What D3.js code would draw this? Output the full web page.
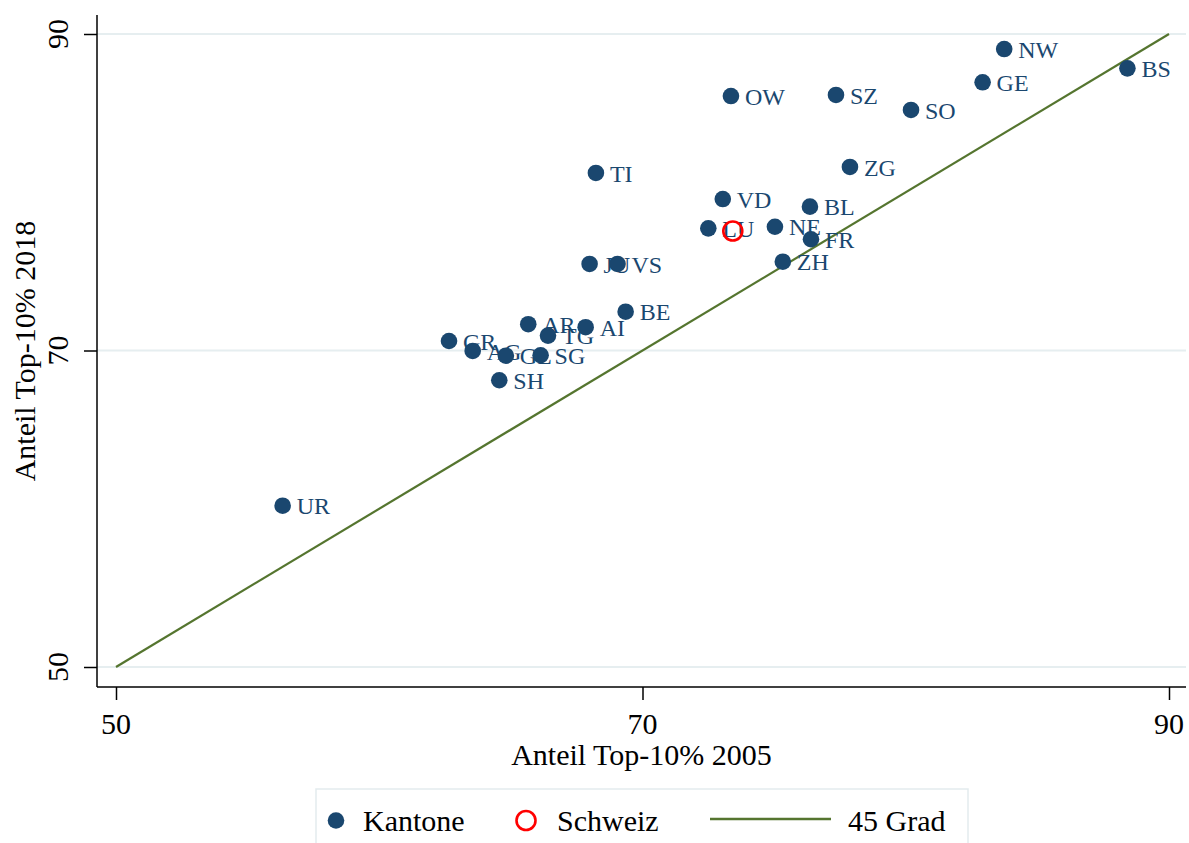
<!DOCTYPE html>
<html><head><meta charset="utf-8">
<script src="https://cdn.jsdelivr.net/npm/d3@7"></script>
<style>body{margin:0;background:#fff}svg{display:block}text{font-family:"Liberation Serif","Times New Roman",serif}</style>
</head><body>
<svg id="c" width="1189" height="843"></svg>
<script>
const cantons = ["NW","GE","BS","OW","SZ","SO","ZG","TI","VD","BL","LU","NE","FR","ZH","JU","VS","BE","AR","AI","TG","GR","AG","GL","SG","SH","UR"];
const share2005 = [83.74,82.92,88.42,73.36,77.35,80.20,77.88,68.23,73.05,76.36,72.50,75.03,76.40,75.33,67.99,69.05,69.36,65.66,67.84,66.41,62.65,63.55,64.81,66.13,64.56,56.33];
const share2018 = [89.05,86.95,87.83,86.08,86.15,85.20,81.60,81.22,79.57,79.09,77.72,77.82,77.03,75.61,75.47,75.47,72.45,71.66,71.47,70.94,70.60,69.97,69.67,69.70,68.12,60.19];
const swiss2005 = [73.43];
const swiss2018 = [77.55];
const lineVals = [50, 90];
const ticks = [50, 70, 90];
const legendLabels = ["Kantone", "Schweiz", "45 Grad"];
const xTitle = "Anteil Top-10% 2005";
const yTitle = "Anteil Top-10% 2018";

const navy = "#1a476f", red = "#ff0000", green = "#55752f", grid = "#e6eef0";
const frame = {left: 97, right: 1186, top: 15, bottom: 687};
const svg = d3.select("#c");
const x = d3.scaleLinear().domain([50, 90]).range([116, 1169]);
const y = d3.scaleLinear().domain([50, 90]).range([667, 34]);

// gridlines
svg.append("g").selectAll("line").data(ticks).join("line")
  .attr("x1", frame.left).attr("x2", frame.right)
  .attr("y1", d => y(d)).attr("y2", d => y(d))
  .attr("stroke", grid).attr("stroke-width", 2);

// axes
const gx = svg.append("g").attr("transform", `translate(0,${frame.bottom})`)
  .call(d3.axisBottom(x).tickValues(ticks).tickSize(13).tickFormat(""));
gx.select(".domain").remove();
gx.selectAll("line").attr("stroke", "#000").attr("stroke-width", 1.5);
const gy = svg.append("g").attr("transform", `translate(${frame.left},0)`)
  .call(d3.axisLeft(y).tickValues(ticks).tickSize(13).tickFormat(""));
gy.select(".domain").remove();
gy.selectAll("line").attr("stroke", "#000").attr("stroke-width", 1.5);

svg.append("line").attr("x1", frame.left).attr("x2", frame.left).attr("y1", frame.top).attr("y2", frame.bottom)
  .attr("stroke", "#000").attr("stroke-width", 1.5);
svg.append("line").attr("x1", frame.left).attr("x2", frame.right).attr("y1", frame.bottom).attr("y2", frame.bottom)
  .attr("stroke", "#000").attr("stroke-width", 1.5);

// tick labels
svg.append("g").selectAll("text").data(ticks).join("text")
  .attr("x", d => x(d)).attr("y", 734).attr("text-anchor", "middle")
  .attr("font-size", 30).text(d => d);
svg.append("g").selectAll("text").data(ticks).join("text")
  .attr("transform", d => `translate(68,${y(d)}) rotate(-90)`).attr("text-anchor", "middle")
  .attr("font-size", 30).text(d => d);

// axis titles
svg.append("text").attr("x", (frame.left + frame.right) / 2).attr("y", 765)
  .attr("text-anchor", "middle").attr("font-size", 30).text(xTitle);
svg.append("text").attr("transform", `translate(35,${(frame.top + frame.bottom) / 2}) rotate(-90)`)
  .attr("text-anchor", "middle").attr("font-size", 30).text(yTitle);

// 45 degree line
svg.append("line").attr("x1", x(lineVals[0])).attr("y1", y(lineVals[0]))
  .attr("x2", x(lineVals[1])).attr("y2", y(lineVals[1]))
  .attr("stroke", green).attr("stroke-width", 2.2);

// cantons
const data = cantons.map((c, i) => ({c, x: share2005[i], y: share2018[i]}));
const gp = svg.append("g");
data.forEach(d => {
  gp.append("circle").attr("cx", x(d.x)).attr("cy", y(d.y)).attr("r", 8.3).attr("fill", navy);
  gp.append("text").attr("x", x(d.x) + 14).attr("y", y(d.y)).attr("dy", "0.36em")
    .attr("font-size", 24).attr("fill", navy).text(d.c);
});

// Schweiz
svg.append("g").selectAll("circle").data(swiss2005).join("circle")
  .attr("cx", (d) => x(d)).attr("cy", (d, i) => y(swiss2018[i])).attr("r", 9.5)
  .attr("fill", "none").attr("stroke", red).attr("stroke-width", 2.6);

// legend
const lg = svg.append("g");
lg.append("rect").attr("x", 316).attr("y", 789).attr("width", 652).attr("height", 70)
  .attr("fill", "#fff").attr("stroke", "#e3ebee").attr("stroke-width", 1.5);
lg.append("circle").attr("cx", 336).attr("cy", 820.5).attr("r", 8.3).attr("fill", navy);
lg.append("text").attr("x", 363).attr("y", 831).attr("font-size", 30).text(legendLabels[0]);
lg.append("circle").attr("cx", 526).attr("cy", 820.5).attr("r", 9.5).attr("fill", "none").attr("stroke", red).attr("stroke-width", 2.6);
lg.append("text").attr("x", 557).attr("y", 831).attr("font-size", 30).text(legendLabels[1]);
lg.append("line").attr("x1", 710).attr("x2", 831).attr("y1", 819).attr("y2", 819).attr("stroke", green).attr("stroke-width", 2.6);
lg.append("text").attr("x", 848).attr("y", 831).attr("font-size", 30).text(legendLabels[2]);
</script>
</body></html>
